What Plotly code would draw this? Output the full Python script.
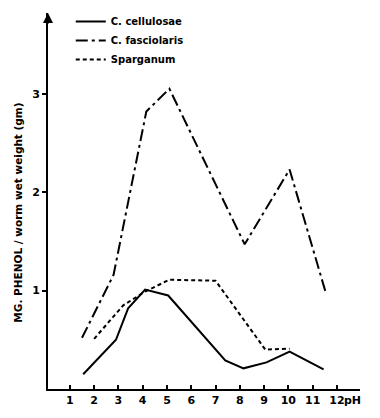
import plotly.graph_objects as go

cell_x = [1.55, 2.9, 3.4, 4.1, 5.05, 7.4, 8.15, 9.1, 10.05, 11.45]
cell_y = [0.15, 0.50, 0.82, 1.01, 0.95, 0.29, 0.21, 0.27, 0.38, 0.20]

fasc_x = [1.5, 2.8, 4.15, 5.1, 8.2, 10.05, 11.55]
fasc_y = [0.52, 1.16, 2.82, 3.05, 1.47, 2.23, 0.97]

sparg_x = [2.0, 3.2, 4.1, 5.1, 7.0, 9.05, 10.05]
sparg_y = [0.51, 0.85, 0.99, 1.11, 1.10, 0.40, 0.41]

x_ticks = list(range(1, 13))
y_ticks = [1, 2, 3]

FONT = "DejaVu Sans"

fig = go.Figure()
fig.add_trace(go.Scatter(x=cell_x, y=cell_y, mode="lines", name="C. cellulosae",
                         line=dict(color="black", width=2, dash="solid")))
fig.add_trace(go.Scatter(x=fasc_x, y=fasc_y, mode="lines", name="C. fasciolaris",
                         line=dict(color="black", width=2, dash="12px,4px,3px,4px")))
fig.add_trace(go.Scatter(x=sparg_x, y=sparg_y, mode="lines", name="Sparganum",
                         line=dict(color="black", width=2, dash="4px,3px")))

fig.update_layout(
    width=380, height=418,
    margin=dict(l=40, r=28, t=5, b=37, autoexpand=False),
    paper_bgcolor="white", plot_bgcolor="white",
    font=dict(family=FONT, size=11, color="black"),
    showlegend=True,
    legend=dict(x=0.073, y=1.016, xanchor="left", yanchor="top",
                bgcolor="rgba(0,0,0,0)", tracegroupgap=0,
                font=dict(family=FONT, size=10, color="black", weight="bold")),
    xaxis=dict(range=[0.1, 12.95], tickvals=x_ticks, automargin=False,
               showgrid=False, zeroline=False, showline=True,
               linecolor="black", linewidth=2, ticks="inside",
               ticklen=4, tickwidth=1.5, tickcolor="black",
               tickfont=dict(size=11, family=FONT, weight="bold")),
    yaxis=dict(range=[0, 3.82], tickvals=y_ticks, automargin=False,
               showgrid=False, zeroline=False, showline=True,
               linecolor="black", linewidth=2, ticks="outside",
               ticklen=4, tickwidth=1.5, tickcolor="black",
               tickfont=dict(size=11, family=FONT, weight="bold")),
)

fig.add_annotation(x=-0.095, y=0.47, xref="paper", yref="paper",
                   text="MG. PHENOL / worm wet weight (gm)", textangle=-90,
                   showarrow=False, xanchor="center", yanchor="middle",
                   font=dict(size=10.5, family=FONT, weight="bold"))
fig.add_annotation(x=12.33, y=0, xref="x", yref="y", text="pH", showarrow=False,
                   xanchor="left", yanchor="top", yshift=-3, xshift=-3,
                   font=dict(size=11, family=FONT, weight="bold"))
fig.add_annotation(x=0, y=1.0, xref="paper", yref="paper", ax=0, ay=12,
                   text="", showarrow=True, arrowhead=2, arrowsize=1,
                   arrowwidth=2, arrowcolor="black")

fig.write_html("out.html")
